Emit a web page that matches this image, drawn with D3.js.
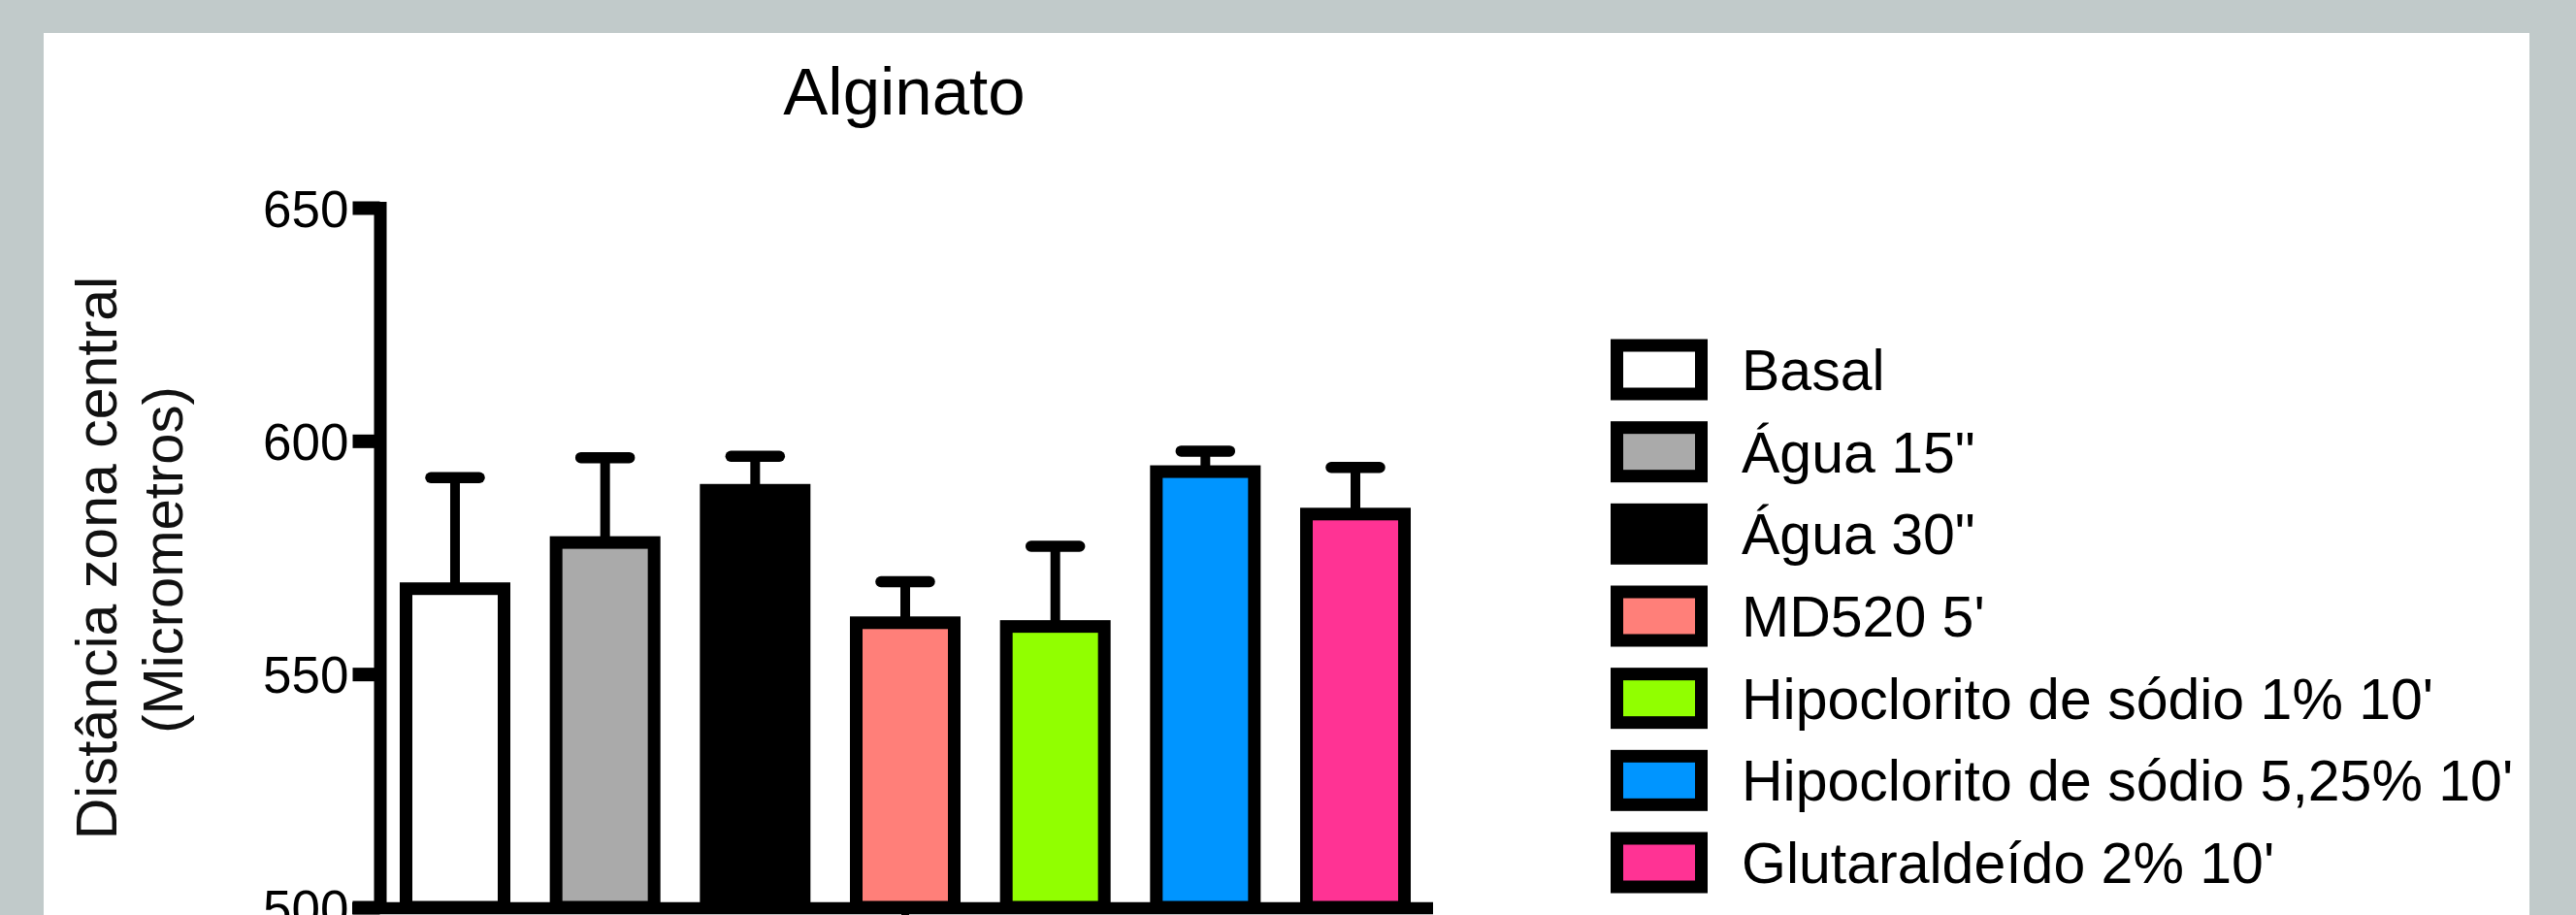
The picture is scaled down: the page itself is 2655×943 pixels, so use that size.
<!DOCTYPE html>
<html>
<head>
<meta charset="utf-8">
<script src="https://cdn.jsdelivr.net/npm/d3@7"></script>
<style>
	html, body { margin: 0; padding: 0; background: #c1caca; overflow: hidden; }
	svg { display: block; font-family: "Liberation Sans", Arial, sans-serif; }
</style>
</head>
<body>
<div id="chart"></div>
<script>
	// data
	let groups = ["Basal", "Água 15\"", "Água 30\"", "MD520 5'", "Hipoclorito de sódio 1% 10'", "Hipoclorito de sódio 5,25% 10'", "Glutaraldeído 2% 10'"];
	let means = [568.3, 578.2, 589.4, 561.0, 560.2, 593.4, 584.3];
	let errors = [23.8, 18.2, 7.3, 8.8, 17.2, 4.4, 10.0];
	let colors = ["#ffffff", "#aaaaaa", "#000000", "#ff7f79", "#91ff00", "#0095ff", "#ff3394"];
	let yTicks = [500, 550, 600, 650];

	let width = 2655;
	let height = 943;
	let lw = 13; // prism style thick lines

	let svg = d3.select('#chart')
		.append('svg')
		.attr('width', width)
		.attr('height', height);

	// white panel
	svg.append('rect')
		.attr('x', 45)
		.attr('y', 34)
		.attr('width', 2607 - 45)
		.attr('height', height)
		.attr('fill', '#ffffff');

	let yScale = d3.scaleLinear()
		.domain([500, 650])
		.range([935, 214]);

	let xScale = d3.scaleBand()
		.domain(groups)
		.range([418.5, 1447.5])
		.paddingInner(0.347)
		.paddingOuter(0);

	let axisX = 391.5;

	// bars
	svg.append('g')
		.selectAll('rect')
		.data(groups)
		.enter()
		.append('rect')
		.attr('x', d => xScale(d))
		.attr('y', (d, i) => yScale(means[i]))
		.attr('width', xScale.bandwidth())
		.attr('height', (d, i) => yScale(500) - yScale(means[i]))
		.attr('fill', (d, i) => colors[i])
		.attr('stroke', '#000')
		.attr('stroke-width', lw);

	// error bars (upper only)
	let err = svg.append('g');
	err.selectAll('line.stem')
		.data(groups)
		.enter()
		.append('line')
		.attr('class', 'stem')
		.attr('x1', d => xScale(d) + xScale.bandwidth() / 2)
		.attr('x2', d => xScale(d) + xScale.bandwidth() / 2)
		.attr('y1', (d, i) => yScale(means[i]))
		.attr('y2', (d, i) => yScale(means[i] + errors[i]))
		.attr('stroke', '#000')
		.attr('stroke-width', 10);

	err.selectAll('line.cap')
		.data(groups)
		.enter()
		.append('line')
		.attr('class', 'cap')
		.attr('x1', d => xScale(d) + xScale.bandwidth() / 2 - 25)
		.attr('x2', d => xScale(d) + xScale.bandwidth() / 2 + 25)
		.attr('y1', (d, i) => yScale(means[i] + errors[i]))
		.attr('y2', (d, i) => yScale(means[i] + errors[i]))
		.attr('stroke', '#000')
		.attr('stroke-width', 11.5)
		.attr('stroke-linecap', 'round');

	// y axis
	let yAxis = svg.append('g')
		.attr('transform', `translate(${axisX},0)`)
		.call(d3.axisLeft(yScale).tickValues(yTicks).tickSize(28).tickSizeOuter(0).tickPadding(4));

	yAxis.select('.domain')
		.attr('stroke', '#000')
		.attr('stroke-width', lw)
		.attr('stroke-linecap', 'square');
	yAxis.selectAll('.tick line')
		.attr('stroke', '#000')
		.attr('stroke-width', 14);
	yAxis.selectAll('.tick text')
		.attr('fill', '#000')
		.attr('dy', '0.36em')
		.style('font-size', '53px')
		.style('font-family', '"Liberation Sans", Arial, sans-serif');

	// x axis line
	svg.append('line')
		.attr('x1', axisX - 28.5)
		.attr('x2', 1477)
		.attr('y1', 936)
		.attr('y2', 936)
		.attr('stroke', '#000')
		.attr('stroke-width', 12.5);

	svg.append('line')
		.attr('x1', 933)
		.attr('x2', 933)
		.attr('y1', 936)
		.attr('y2', 960)
		.attr('stroke', '#000')
		.attr('stroke-width', 8);

	// title
	svg.append('text')
		.attr('x', 932)
		.attr('y', 118)
		.style('text-anchor', 'middle')
		.style('font-size', '69px')
		.text('Alginato');

	// y axis label
	svg.append('text')
		.attr('transform', 'translate(120,575) rotate(-90)')
		.style('text-anchor', 'middle')
		.style('font-size', '59px')
		.attr('fill', '#111')
		.text('Distância zona central');

	svg.append('text')
		.attr('transform', 'translate(188,577) rotate(-90)')
		.style('text-anchor', 'middle')
		.style('font-size', '58px')
		.attr('fill', '#111')
		.text('(Micrometros)');

	// legend
	let legendY = d3.scalePoint()
		.domain(groups)
		.range([381, 889]);

	let legend = svg.append('g')
		.selectAll('g')
		.data(groups)
		.enter()
		.append('g')
		.attr('transform', d => `translate(0,${legendY(d)})`);

	legend.append('rect')
		.attr('x', 1666.5)
		.attr('y', -25)
		.attr('width', 87)
		.attr('height', 50)
		.attr('fill', (d, i) => colors[i])
		.attr('stroke', '#000')
		.attr('stroke-width', lw);

	legend.append('text')
		.attr('x', 1795)
		.attr('y', 21)
		.style('font-size', '59px')
		.text(d => d);
</script>
</body>
</html>
